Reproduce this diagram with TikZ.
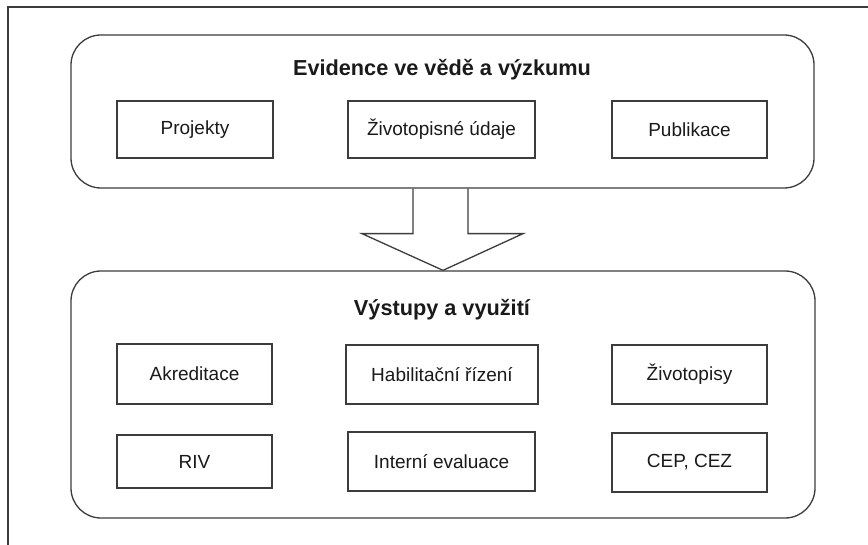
\documentclass[tikz,border=0pt]{standalone}
\usepackage{fontspec}
\setmainfont{Liberation Sans}
\usetikzlibrary{calc}
\definecolor{ln}{HTML}{3C3C3C}
\definecolor{tx}{HTML}{1A1A1A}
\begin{document}
\begin{tikzpicture}[x=1pt,y=-1pt,
  group/.style={draw=ln,line width=1.3pt,rounded corners=30pt,inner sep=0pt},
  item/.style={draw=ln,line width=1.3pt,inner sep=0pt,text=tx,font=\fontsize{19}{22}\selectfont},
  heading/.style={text=tx,font=\fontsize{21.7}{25}\selectfont\bfseries,inner sep=0pt}]
\useasboundingbox (0,0) rectangle (868,545);
\fill[white] (0,0) rectangle (868,545);
\draw[ln,line width=1.3pt] (868,7) -- (8,7) -- (8,545);
% top group
\node[group,minimum width=743pt,minimum height=153pt] (top) at (442.5,111.5) {};
\node[heading] (toph) at (442,70) {Evidence ve vědě a výzkumu};
\node[item,minimum width=156pt,minimum height=57pt] (proj) at (195,129.5) {Projekty};
\node[item,minimum width=187pt,minimum height=57pt] (zivu) at (441.5,129.5) {Životopisné údaje};
\node[item,minimum width=155pt,minimum height=57pt] (publ) at (689.5,129.5) {Publikace};
% bottom group
\node[group,minimum width=744pt,minimum height=247pt] (bot) at (443,394.5) {};
\node[heading] (both) at (442,310) {Výstupy a využití};
\node[item,minimum width=155pt,minimum height=60pt] (akr) at (194.5,374) {Akreditace};
\node[item,minimum width=192pt,minimum height=59pt] (hab) at (442,374.5) {Habilitační řízení};
\node[item,minimum width=155pt,minimum height=59pt] (ziv) at (689.5,374.5) {Životopisy};
\node[item,minimum width=155pt,minimum height=53pt] (riv) at (194.5,461.5) {RIV};
\node[item,minimum width=187pt,minimum height=59pt] (int) at (441.5,461.5) {Interní evaluace};
\node[item,minimum width=155pt,minimum height=59pt] (cep) at (689.5,462.5) {CEP, CEZ};
% block arrow from top group to bottom group
\draw[ln,line width=1.3pt,line join=miter]
  ($(top.south)+(-29.5,0)$) -- ($(top.south)+(-29.5,45)$) -- ($(top.south)+(-80.5,45)$)
  -- (bot.north)
  -- ($(top.south)+(80.5,45)$) -- ($(top.south)+(25.5,45)$) -- ($(top.south)+(25.5,0)$);
\end{tikzpicture}
\end{document}
